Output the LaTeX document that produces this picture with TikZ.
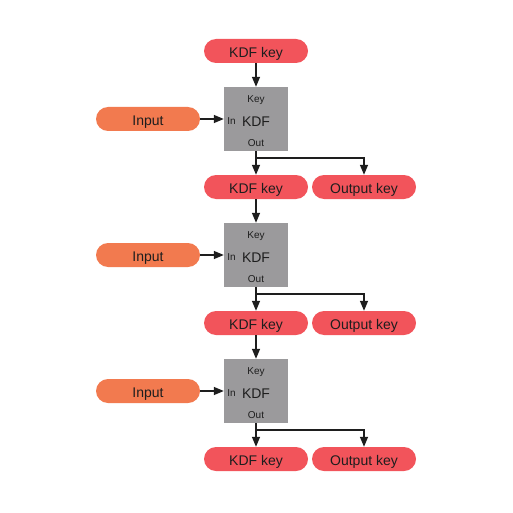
\documentclass[tikz,border=0pt]{standalone}
\usepackage{fontspec}
\setmainfont{Liberation Sans}
\usetikzlibrary{arrows.meta}
\definecolor{keyred}{HTML}{F2545B}
\definecolor{inorange}{HTML}{F27A4F}
\definecolor{boxgray}{HTML}{9B9A9C}
\definecolor{txt}{HTML}{1E1E1E}
\tikzset{
  pill/.style={fill=#1, rounded corners=12pt, minimum width=104pt, minimum height=24pt, inner sep=0pt, text=txt, font=\fontsize{14}{14}\selectfont, text height=13pt, text depth=0pt},
  kdfbox/.style={fill=boxgray, minimum width=64pt, minimum height=64pt, inner sep=0pt},
  small/.style={font=\fontsize{10}{10}\selectfont, text=txt, inner sep=0pt, text height=7.2pt, text depth=0pt},
  big/.style={font=\fontsize{14}{14}\selectfont, text=txt, inner sep=0pt, text height=10pt, text depth=0pt},
  conn/.style={line width=1.4pt, draw=txt, -{Triangle[length=10pt,width=8pt]}},
}
\begin{document}
\begin{tikzpicture}[x=1pt,y=-1pt]
\useasboundingbox (0,0) rectangle (512,513);
\node[pill=keyred] (k0) at (256,51) {KDF key};
\foreach \i in {1,2,3}{
  \pgfmathsetmacro{\yc}{119+136*(\i-1)}
  \node[kdfbox] (b\i) at (256,\yc) {};
  \node[small] (key\i) at (256,\yc-20) {Key};
  \node[big] (t\i) at (256,\yc+2.5) {KDF};
  \node[small] (in\i) at (231.5,\yc+2) {In};
  \node[small] (out\i) at (256,\yc+23.5) {Out};
  \node[pill=inorange] (inp\i) at (148,\yc) {Input};
  \node[pill=keyred] (k\i) at (256,\yc+68) {KDF key};
  \node[pill=keyred] (o\i) at (364,\yc+68) {Output key};
  \coordinate (br\i) at (256,\yc+39);
  \draw[conn] (inp\i.east) -- (b\i.west);
  \draw[conn] (b\i.south) -- (k\i.north);
  \draw[conn] (br\i) -| (o\i.north);
}
\draw[conn] (k0.south) -- (b1.north);
\draw[conn] (k1.south) -- (b2.north);
\draw[conn] (k2.south) -- (b3.north);
\end{tikzpicture}
\end{document}
